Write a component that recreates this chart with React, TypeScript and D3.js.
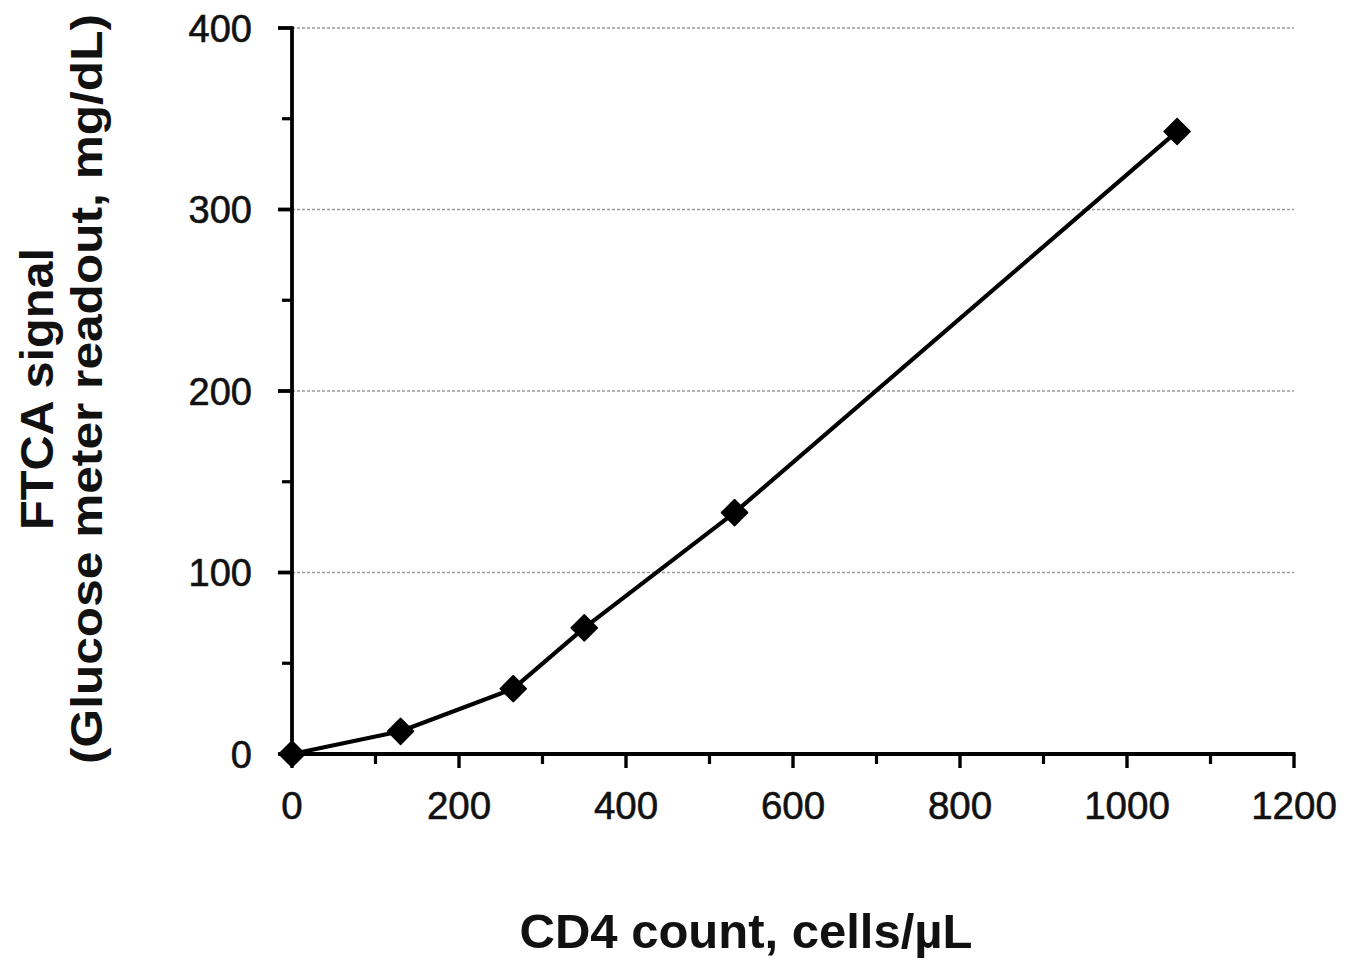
import React from "react";
import * as d3 from "d3";

const cd4Counts = [0, 130, 265, 350, 530, 1060];
const ftcaSignal = [0, 12.5, 36, 69.5, 133, 343];
const xTicks = [0, 200, 400, 600, 800, 1000, 1200];
const xMinorTicks = [100, 300, 500, 700, 900, 1100];
const yTicks = [0, 100, 200, 300, 400];
const yMinorTicks = [50, 150, 250, 350];
const xTitle = "CD4 count, cells/\u00b5L";
const yTitle1 = "FTCA signal";
const yTitle2 = "(Glucose meter readout, mg/dL)";

export default function App() {
  const W = 1360, H = 961;
  const x = d3.scaleLinear().domain([0, 1200]).range([292, 1294]);
  const y = d3.scaleLinear().domain([0, 400]).range([754, 28]);
  const pts = cd4Counts.map((c, i) => [x(c), y(ftcaSignal[i])] as [number, number]);
  const line = d3.line()(pts) || "";
  const marker = d3.symbol().type(d3.symbolSquare).size(340)() || "";
  const font = "'Liberation Sans', Arial, sans-serif";
  return (
    <svg width={W} height={H} style={{ position: "absolute", left: 0, top: 0, background: "#fff" }}>
      <rect width={W} height={H} fill="#fff" />
      {yTicks.filter(t => t > 0).map(t => (
        <line key={"g" + t} x1={x(0)} x2={x(1200)} y1={y(t)} y2={y(t)} stroke="#9a9a9a" strokeWidth={1.6} strokeDasharray="3 2" />
      ))}
      {/* axes */}
      <line x1={x(0)} x2={x(0)} y1={y(400) - 1.75} y2={y(0) + 1.75} stroke="#000" strokeWidth={3.8} />
      <line x1={x(0) - 1.75} x2={x(1200) + 1.5} y1={y(0)} y2={y(0)} stroke="#000" strokeWidth={3.8} />
      {yTicks.map(t => (
        <line key={"yt" + t} x1={x(0) - 14} x2={x(0)} y1={y(t)} y2={y(t)} stroke="#000" strokeWidth={3.8} />
      ))}
      {yMinorTicks.map(t => (
        <line key={"ym" + t} x1={x(0) - 10} x2={x(0)} y1={y(t)} y2={y(t)} stroke="#000" strokeWidth={3.2} />
      ))}
      {xTicks.map(t => (
        <line key={"xt" + t} x1={x(t)} x2={x(t)} y1={y(0)} y2={y(0) + 14} stroke="#000" strokeWidth={3.4} />
      ))}
      {xMinorTicks.map(t => (
        <line key={"xm" + t} x1={x(t)} x2={x(t)} y1={y(0)} y2={y(0) + 10} stroke="#000" strokeWidth={3.2} />
      ))}
      {yTicks.map(t => (
        <text key={"yl" + t} x={252} y={y(t)} dy="0.36em" textAnchor="end" fontFamily={font} fontSize={38} fill="#111" stroke="#111" strokeWidth={0.6}>{t}</text>
      ))}
      {xTicks.map(t => (
        <text key={"xl" + t} x={x(t)} y={819} textAnchor="middle" fontFamily={font} fontSize={38.5} fill="#111" stroke="#111" strokeWidth={0.6}>{t}</text>
      ))}
      <path d={line} fill="none" stroke="#000" strokeWidth={4.2} strokeLinejoin="round" />
      {pts.map((p, i) => (
        <path key={"m" + i} d={marker} transform={`translate(${p[0]},${p[1]}) rotate(45)`} fill="#000" stroke="#000" strokeWidth={1.5} strokeLinejoin="round" />
      ))}
      <text x={746} y={948} textAnchor="middle" fontFamily={font} fontSize={49} fontWeight="bold" fill="#111">{xTitle}</text>
      <text transform="translate(53,389) rotate(-90)" textAnchor="middle" fontFamily={font} fontSize={47} fontWeight="bold" fill="#111" textLength={282} lengthAdjust="spacingAndGlyphs">{yTitle1}</text>
      <text transform="translate(102,389) rotate(-90)" textAnchor="middle" fontFamily={font} fontSize={44} fontWeight="bold" fill="#111" textLength={750} lengthAdjust="spacingAndGlyphs">{yTitle2}</text>
    </svg>
  );
}
